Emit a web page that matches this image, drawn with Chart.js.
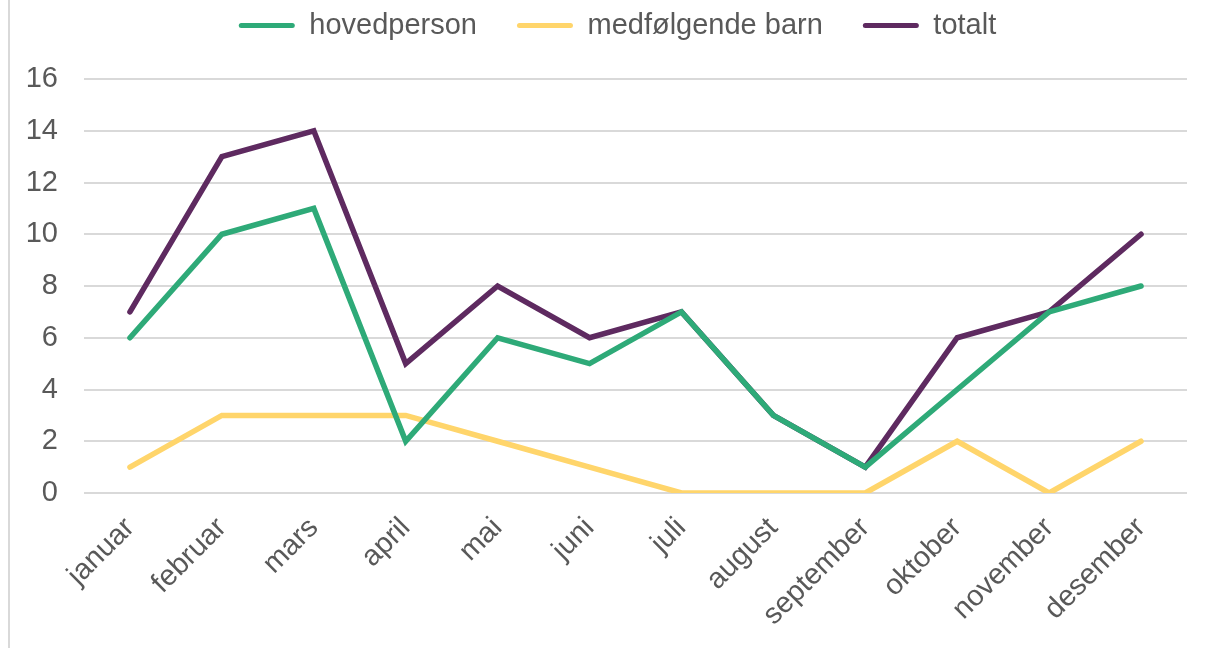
<!DOCTYPE html>
<html>
<head>
<meta charset="utf-8">
<script src="https://cdn.jsdelivr.net/npm/chart.js@4"></script>
<style>
  html, body { margin: 0; padding: 0; background: #fff; }
  #wrap {
    position: absolute; left: 8px; top: 0;
    width: 1206px; height: 648px;
    border-left: 2px solid #d9d9d9;
    overflow: hidden;
  }
  #box { position: absolute; left: 0; top: -29px; width: 1204px; height: 677px; }
</style>
</head>
<body>
<div id="wrap"><div id="box"><canvas id="chart"></canvas></div></div>
<script>
// Month labels on the x axis
const months = ['januar', 'februar', 'mars', 'april', 'mai', 'juni', 'juli', 'august', 'september', 'oktober', 'november', 'desember'];

// Series values
const hovedperson = [6, 10, 11, 2, 6, 5, 7, 3, 1, 4, 7, 8];
const medfolgendeBarn = [1, 3, 3, 3, 2, 1, 0, 0, 0, 2, 0, 2];
const totalt = [7, 13, 14, 5, 8, 6, 7, 3, 1, 6, 7, 10];

const textColor = '#595959';
const fontFamily = '"Liberation Sans", Arial, sans-serif';

function makeDataset(label, data, color) {
    return {
        label: label,
        data: data,
        borderColor: color,
        backgroundColor: color,
        borderWidth: 5.5,
        pointRadius: 0,
        pointHoverRadius: 0,
        tension: 0,
        borderCapStyle: 'round',
        borderJoinStyle: 'miter',
    };
}

// more room under the legend, and nudge it a bit to the right
const legendTweak = {
    id: 'legendTweak',
    beforeInit(chart) {
        const legend = chart.legend;
        const fit = legend.fit;
        legend.fit = function () {
            fit.bind(legend)();
            this.height += 29;
        };
        const draw = legend.draw;
        legend.draw = function () {
            const c = chart.ctx;
            c.save();
            c.translate(19, 0);
            draw.bind(legend)();
            c.restore();
        };
    },
};

const ctx = document.getElementById('chart').getContext('2d');
new Chart(ctx, {
    type: 'line',
    data: {
        labels: months,
        datasets: [
            makeDataset('hovedperson', hovedperson, '#2eaa78'),
            makeDataset('medfølgende barn', medfolgendeBarn, '#ffd56b'),
            makeDataset('totalt', totalt, '#5e2a60'),
        ],
    },
    options: {
        responsive: true,
        maintainAspectRatio: false,
        animation: false,
        layout: { padding: { left: 0, right: 27, top: 0, bottom: 0 } },
        plugins: {
            tooltip: { enabled: false },
            legend: {
                position: 'top',
                labels: {
                    color: textColor,
                    font: { family: fontFamily, size: 29 },
                    boxWidth: 56,
                    boxHeight: 5,
                    useBorderRadius: true,
                    borderRadius: 2.5,
                    padding: 40,
                    generateLabels: chart => {
                        const items = Chart.defaults.plugins.legend.labels.generateLabels(chart);
                        items.forEach(item => { item.lineWidth = 0; });
                        return items;
                    },
                },
            },
        },
        scales: {
            x: {
                offset: true,
                grid: { display: false, drawTicks: false },
                border: { display: false },
                ticks: {
                    color: textColor,
                    font: { family: fontFamily, size: 29 },
                    minRotation: 45,
                    maxRotation: 45,
                    padding: 18,
                    autoSkip: false,
                },
                afterFit: scale => { scale.height = 155; },
            },
            y: {
                min: 0,
                max: 16,
                grid: { color: '#d9d9d9', lineWidth: 2, drawTicks: false },
                border: { display: false },
                ticks: {
                    stepSize: 2,
                    color: textColor,
                    font: { family: fontFamily, size: 29 },
                    padding: 26,
                },
                afterFit: scale => { scale.width = 74; },
            },
        },
    },
    plugins: [legendTweak],
});
</script>
</body>
</html>
